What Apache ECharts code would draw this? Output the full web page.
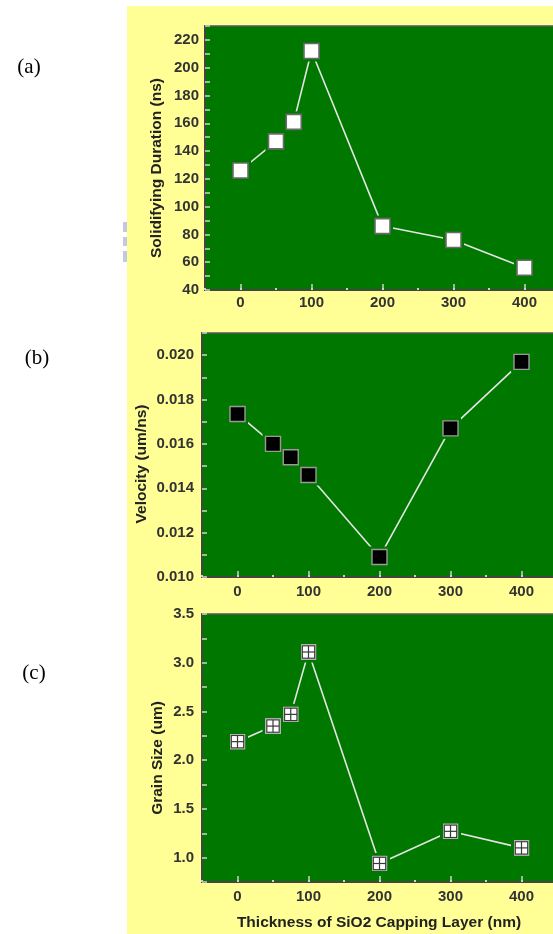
<!DOCTYPE html>
<html>
<head>
<meta charset="utf-8">
<title>Solidification vs SiO2 capping thickness</title>
<script src="https://cdn.jsdelivr.net/npm/echarts@6/dist/echarts.min.js"></script>
<style>
  html, body { margin: 0; padding: 0; background: #ffffff; }
  #panel { position: absolute; left: 127px; top: 6px; width: 426px; height: 928px; background: #ffff96; }
  #chart { position: absolute; left: 0; top: 0; width: 553px; height: 934px; }
</style>
</head>
<body>
<div id="panel"></div>
<div id="chart"></div>
<script>
// Capping-layer thickness (nm) and the measured quantities
const thicknessNm = [0, 50, 75, 100, 200, 300, 400];
const durationNs = [126, 147, 161, 212, 86, 76, 56];
const velocityUmNs = [0.01735, 0.0160, 0.0154, 0.0146, 0.0109, 0.0167, 0.0197];
const grainSizeUm = [2.19, 2.35, 2.47, 3.11, 0.94, 1.27, 1.10];

// Tick labels
const xTickLabels = [0, 100, 200, 300, 400];
const durationTickLabels = [40, 60, 80, 100, 120, 140, 160, 180, 200, 220];
const velocityTickLabels = [0.010, 0.012, 0.014, 0.016, 0.018, 0.020];
const grainTickLabels = [1.0, 1.5, 2.0, 2.5, 3.0, 3.5];

const GREEN = '#007800';
const TEXT = '#333333';
const FONT = '"Liberation Sans", Arial, sans-serif';

function pick(list, digits) {
  return function (v) {
    for (const t of list) {
      if (Math.abs(v - t) < 1e-7) return digits == null ? String(t) : t.toFixed(digits);
    }
    return '';
  };
}

// plot areas run slightly past the right edge of the page
const grids = [
  { left: 205, top: 26, width: 355, height: 264 },
  { left: 202, top: 333, width: 355, height: 244 },
  { left: 202, top: 614, width: 355, height: 268 }
].map(g => Object.assign(g, {
  show: true, backgroundColor: GREEN, borderColor: '#555', borderWidth: 1.5,
  outerBoundsMode: 'none', containLabel: false
}));

const labelStyle = { color: TEXT, fontWeight: 'bold', fontSize: 15, fontFamily: FONT };

const xAxes = [];
grids.forEach((g, i) => {
  xAxes.push({
    type: 'value', gridIndex: i, position: 'bottom',
    min: -50, max: 450, interval: 50,
    axisLine: { onZero: false, lineStyle: { color: '#444', width: 2 } },
    axisTick: { inside: true, length: 2, lineStyle: { color: '#cfcfcf', width: 2 } },
    axisLabel: Object.assign({ formatter: pick(xTickLabels), margin: i === 0 ? 5 : 7 }, labelStyle),
    splitLine: { show: false }
  });
  // longer ticks at the labelled positions
  xAxes.push({
    type: 'value', gridIndex: i, position: 'bottom', offset: 0,
    min: -50, max: 450, interval: 50,
    axisLine: { show: false, onZero: false },
    axisTick: { inside: true, length: 6, customValues: xTickLabels, lineStyle: { color: '#cfcfcf', width: 1.5 } },
    axisLabel: { show: false },
    splitLine: { show: false }
  });
});

function yAxis(i, min, max, interval, labels, digits, margin) {
  return {
    type: 'value', gridIndex: i, min: min, max: max, interval: interval,
    axisLine: { show: true, onZero: false, lineStyle: { color: '#444', width: 2 } },
    axisTick: { show: true, inside: true, length: 5, lineStyle: { color: '#cfcfcf', width: 1.5 } },
    axisLabel: Object.assign({ formatter: pick(labels, digits), margin: margin }, labelStyle),
    splitLine: { show: false }
  };
}

const yAxes = [
  yAxis(0, 40, 230, 10, durationTickLabels, null, 6),
  yAxis(1, 0.010, 0.021, 0.001, velocityTickLabels, 3, 8),
  yAxis(2, 0.75, 3.5, 0.25, grainTickLabels, 1, 8)
];

const grainSymbol = 'image://data:image/svg+xml;utf8,' + encodeURIComponent(
  '<svg xmlns="http://www.w3.org/2000/svg" width="16" height="16" viewBox="0 0 16 16">' +
  '<rect x="0" y="0" width="16" height="16" fill="#b5b5b5"/>' +
  '<rect x="1.3" y="1.3" width="13.4" height="13.4" fill="#3a3a3a"/>' +
  '<rect x="2.4" y="2.4" width="5" height="5" fill="#ffffff"/>' +
  '<rect x="8.6" y="2.4" width="5" height="5" fill="#ffffff"/>' +
  '<rect x="2.4" y="8.6" width="5" height="5" fill="#ffffff"/>' +
  '<rect x="8.6" y="8.6" width="5" height="5" fill="#ffffff"/>' +
  '</svg>');

function pairs(ys) { return thicknessNm.map((x, k) => [x, ys[k]]); }

function panelSeries(i, ys, marker) {
  const xi = i * 2;
  return [
    {
      type: 'line', xAxisIndex: xi, yAxisIndex: i, data: pairs(ys),
      showSymbol: false, silent: true, z: 2,
      lineStyle: { color: '#e4e4e4', width: 1.6 }
    },
    {
      // green clearance around each marker
      type: 'scatter', xAxisIndex: xi, yAxisIndex: i, data: pairs(ys),
      symbol: 'rect', symbolSize: 21, silent: true, z: 3,
      itemStyle: { color: GREEN, opacity: 1 }
    },
    Object.assign({
      type: 'scatter', xAxisIndex: xi, yAxisIndex: i, data: pairs(ys), silent: true, z: 4
    }, marker)
  ];
}

const series = [].concat(
  panelSeries(0, durationNs, {
    symbol: 'rect', symbolSize: 15,
    itemStyle: { color: '#ffffff', borderColor: '#6a6a6a', borderWidth: 1.6, opacity: 1 }
  }),
  panelSeries(1, velocityUmNs, {
    symbol: 'rect', symbolSize: 15,
    itemStyle: { color: '#000000', borderColor: '#9a9a9a', borderWidth: 1.4, opacity: 1 }
  }),
  panelSeries(2, grainSizeUm, {
    symbol: grainSymbol, symbolSize: 16,
    itemStyle: { opacity: 1 }
  })
);

const titleStyle = { fill: '#222', font: 'bold 15.5px ' + FONT, align: 'center', verticalAlign: 'middle' };
const letterStyle = { fill: '#000', font: '21px "Liberation Serif", "Times New Roman", serif', align: 'center', verticalAlign: 'middle' };

const graphic = [
  { type: 'text', x: 157, y: 168, rotation: Math.PI / 2, style: Object.assign({ text: 'Solidifying Duration (ns)' }, titleStyle) },
  { type: 'text', x: 142, y: 464, rotation: Math.PI / 2, style: Object.assign({ text: 'Velocity (um/ns)' }, titleStyle) },
  { type: 'text', x: 158, y: 758, rotation: Math.PI / 2, style: Object.assign({ text: 'Grain Size (um)' }, titleStyle) },
  { type: 'text', x: 379, y: 923, style: Object.assign({ text: 'Thickness of SiO2 Capping Layer (nm)' }, titleStyle) },
  { type: 'text', x: 29, y: 67, style: Object.assign({ text: '(a)' }, letterStyle) },
  { type: 'text', x: 37, y: 358, style: Object.assign({ text: '(b)' }, letterStyle) },
  { type: 'text', x: 34, y: 673, style: Object.assign({ text: '(c)' }, letterStyle) },
  { type: 'rect', shape: { x: 123, y: 222, width: 4, height: 10 }, style: { fill: '#c3c9e2' } },
  { type: 'rect', shape: { x: 123, y: 237, width: 4, height: 9 }, style: { fill: '#c3c9e2' } },
  { type: 'rect', shape: { x: 123, y: 251, width: 4, height: 11 }, style: { fill: '#c3c9e2' } }
];

const chart = echarts.init(document.getElementById('chart'), null, { renderer: 'canvas' });
chart.setOption({
  backgroundColor: 'transparent',
  animation: false,
  grid: grids,
  xAxis: xAxes,
  yAxis: yAxes,
  series: series,
  graphic: graphic
});
</script>
</body>
</html>
